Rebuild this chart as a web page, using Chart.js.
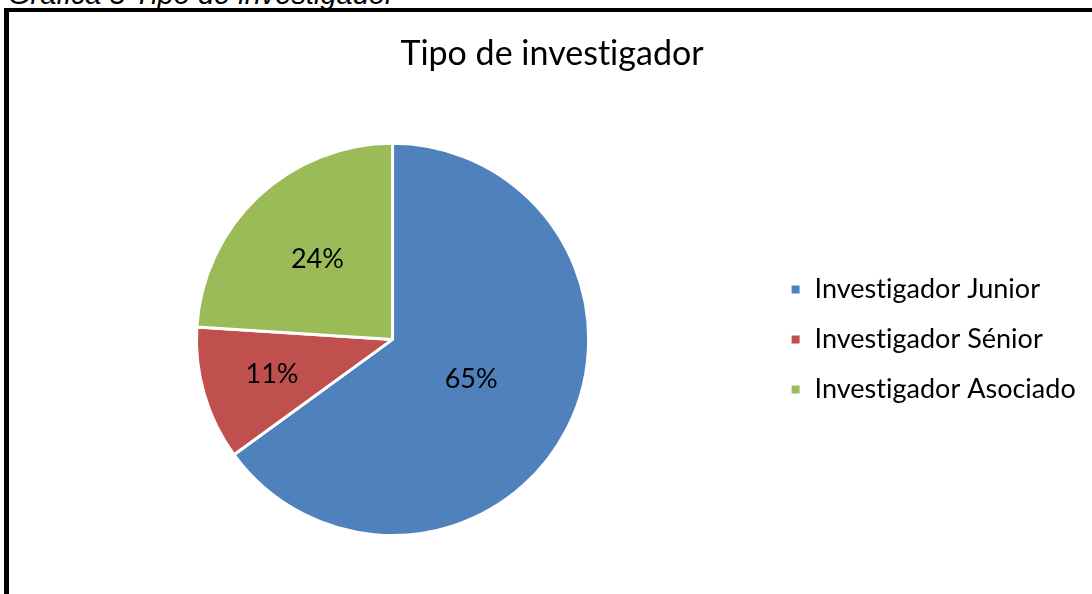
<!DOCTYPE html>
<html>
<head>
<meta charset="utf-8">
<script src="https://cdn.jsdelivr.net/npm/chart.js@4.4.1/dist/chart.umd.min.js"></script>
<style>
  html, body { margin: 0; padding: 0; background: #fff; overflow: hidden; width: 1092px; height: 594px; }
  #caption {
    position: absolute; left: 8px; top: -22px;
    font: italic 29px "Liberation Sans", Arial, sans-serif; color: #000; white-space: nowrap;
  }
  #frame {
    position: absolute; left: 4px; top: 8px; width: 1120px; height: 620px;
    border-left: 5px solid #000; border-top: 4px solid #000;
    box-shadow: -1px -1px 0 #888 inset;
  }
  #wrap { position: absolute; left: 9px; top: 12px; width: 1092px; height: 582px; }
</style>
</head>
<body>
<div id="caption">Gráfica 5 Tipo de investigador</div>
<div id="frame"></div>
<div id="wrap"><canvas id="chart"></canvas></div>
<script>
  const categories = ["Investigador Junior", "Investigador Sénior", "Investigador Asociado"];
  const shares = [65, 11, 24];
  const sliceColors = ["#4F81BD", "#C0504D", "#9BBB59"];

  // where each percentage sits along the slice radius
  const labelRadius = [0.45, 0.64, 0.56];
  const FONT = 'Lato, "Open Sans", sans-serif';

  // Lato joins "ti" into a ligature, the original font does not
  const noLigatures = {
    id: "noLigatures",
    beforeDraw(chart) {
      chart.ctx.textRendering = "optimizeSpeed";
      chart.ctx.letterSpacing = "0.01px";
    }
  };

  const percentLabels = {
    id: "percentLabels",
    afterDatasetsDraw(chart) {
      const ctx = chart.ctx;
      const arcs = chart.getDatasetMeta(0).data;
      ctx.save();
      ctx.font = "27px " + FONT;
      ctx.fillStyle = "#000";
      ctx.textAlign = "center";
      ctx.textBaseline = "middle";
      arcs.forEach((arc, i) => {
        const p = arc.getProps(["x", "y", "startAngle", "endAngle", "outerRadius"], true);
        const mid = (p.startAngle + p.endAngle) / 2;
        const r = p.outerRadius * labelRadius[i];
        ctx.fillText(shares[i] + "%", p.x + Math.cos(mid) * r, p.y + Math.sin(mid) * r);
      });
      ctx.restore();
    }
  };

  new Chart(document.getElementById("chart"), {
    type: "pie",
    data: {
      labels: categories,
      datasets: [{
        data: shares,
        backgroundColor: sliceColors,
        borderColor: "#fff",
        borderWidth: 3
      }]
    },
    options: {
      responsive: true,
      maintainAspectRatio: false,
      animation: false,
      layout: { padding: { left: 9, right: 15, top: 0, bottom: 57 } },
      plugins: {
        tooltip: { enabled: false },
        title: {
          display: true,
          text: "Tipo de investigador",
          color: "#000",
          font: { family: FONT, size: 34, weight: "normal" },
          padding: { top: 22, bottom: 67 }
        },
        legend: {
          position: "right",
          fullSize: false,
          labels: {
            color: "#000",
            font: { family: FONT, size: 27 },
            boxWidth: 11,
            boxHeight: 11,
            padding: 23
          }
        }
      }
    },
    plugins: [noLigatures, percentLabels]
  });
</script>
</body>
</html>
